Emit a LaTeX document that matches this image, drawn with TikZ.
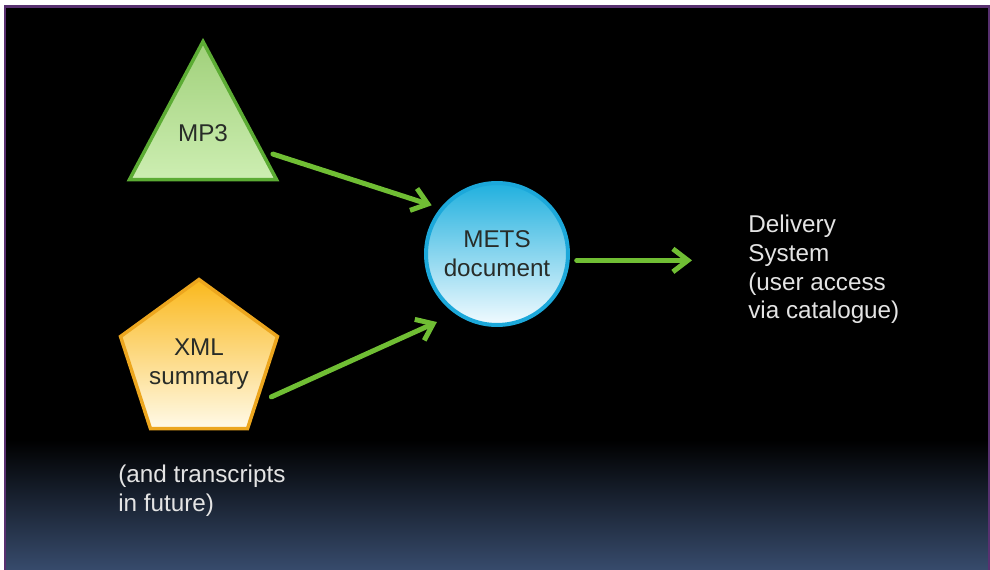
\documentclass[tikz,border=0pt]{standalone}
\usepackage{fontspec}
\setmainfont{Liberation Sans}
\usetikzlibrary{shapes.geometric,arrows.meta,calc}

\definecolor{slidepurple}{RGB}{88,48,112}
\definecolor{slideblue}{RGB}{55,75,108}
\definecolor{flowgreen}{RGB}{112,190,52}
\definecolor{trigreen}{RGB}{92,172,52}
\definecolor{pentaorange}{RGB}{236,166,30}
\definecolor{circleblue}{RGB}{28,168,218}
\definecolor{labelgrey}{RGB}{228,228,228}
\definecolor{inkgrey}{RGB}{40,44,40}

\begin{document}
\begin{tikzpicture}[x=0.02cm, y=-0.02cm,
    every node/.style={font=\fontsize{13.8}{16.5}\selectfont, inner sep=0pt},
    mp3box/.style={isosceles triangle, shape border rotate=90, isosceles triangle stretches,
        minimum width=2.94cm, minimum height=2.76cm, draw=trigreen, line width=0.07cm,
        top color={rgb,255:red,160;green,208;blue,122}, bottom color={rgb,255:red,205;green,238;blue,178}},
    xmlbox/.style={regular polygon, regular polygon sides=5, minimum size=3.3cm,
        draw=pentaorange, line width=0.07cm,
        top color={rgb,255:red,250;green,184;blue,28}, bottom color={rgb,255:red,255;green,250;blue,232}},
    metsbox/.style={circle, minimum size=2.84cm, draw=circleblue, line width=0.08cm, align=center,
        top color={rgb,255:red,32;green,176;blue,222}, bottom color={rgb,255:red,242;green,251;blue,255},
        text=inkgrey},
    inner/.style={text=inkgrey, align=center},
    note/.style={align=left, text=labelgrey},
    flow/.style={draw=flowgreen, line width=0.1cm, line cap=round,
        -{Straight Barb[length=0.3cm, width=0.46cm, line width=0.1cm]}}]

    % slide frame
    \useasboundingbox (0,0) rectangle (990,570);
    \fill[white] (0,0) rectangle (990,570);
    \fill[black] (5,7) rectangle (989,570);
    \shade[top color=black, bottom color=slideblue] (5,440) rectangle (989,570);
    \draw[slidepurple, line width=0.06cm] (5,570) -- (5,7) -- (989,7) -- (989,570);

    % shapes
    \node[mp3box, anchor=apex] (mp3) at (203,37) {};
    \node[inner] (mp3text) at ([yshift=-1.92cm]mp3.apex) {MP3};
    \node[xmlbox] (xml) at (199,362) {};
    \node[inner, text depth=0pt] (xmltext) at (xml.center) {XML\\summary};
    \node[metsbox] (mets) at (497,254) {METS\\document};

    % text
    \node[note, anchor=base west] (delivery) at (748,319) {Delivery\\System\\(user access\\via catalogue)};
    \node[note, anchor=base west] (future) at (118,511) {(and transcripts\\in future)};

    % arrows
    \draw[flow, shorten <=0.2cm, shorten >=0.18cm] ($(mp3.apex)!0.79!(mp3.right corner)$) -- (mets.141);
    \draw[flow, shorten <=0.3cm, shorten >=0.4cm] (xml.-35) -- (mets.235);
    \draw[flow, shorten <=0.14cm] (mets.-5) -- (mets.-5 -| 692,0);
\end{tikzpicture}
\end{document}
